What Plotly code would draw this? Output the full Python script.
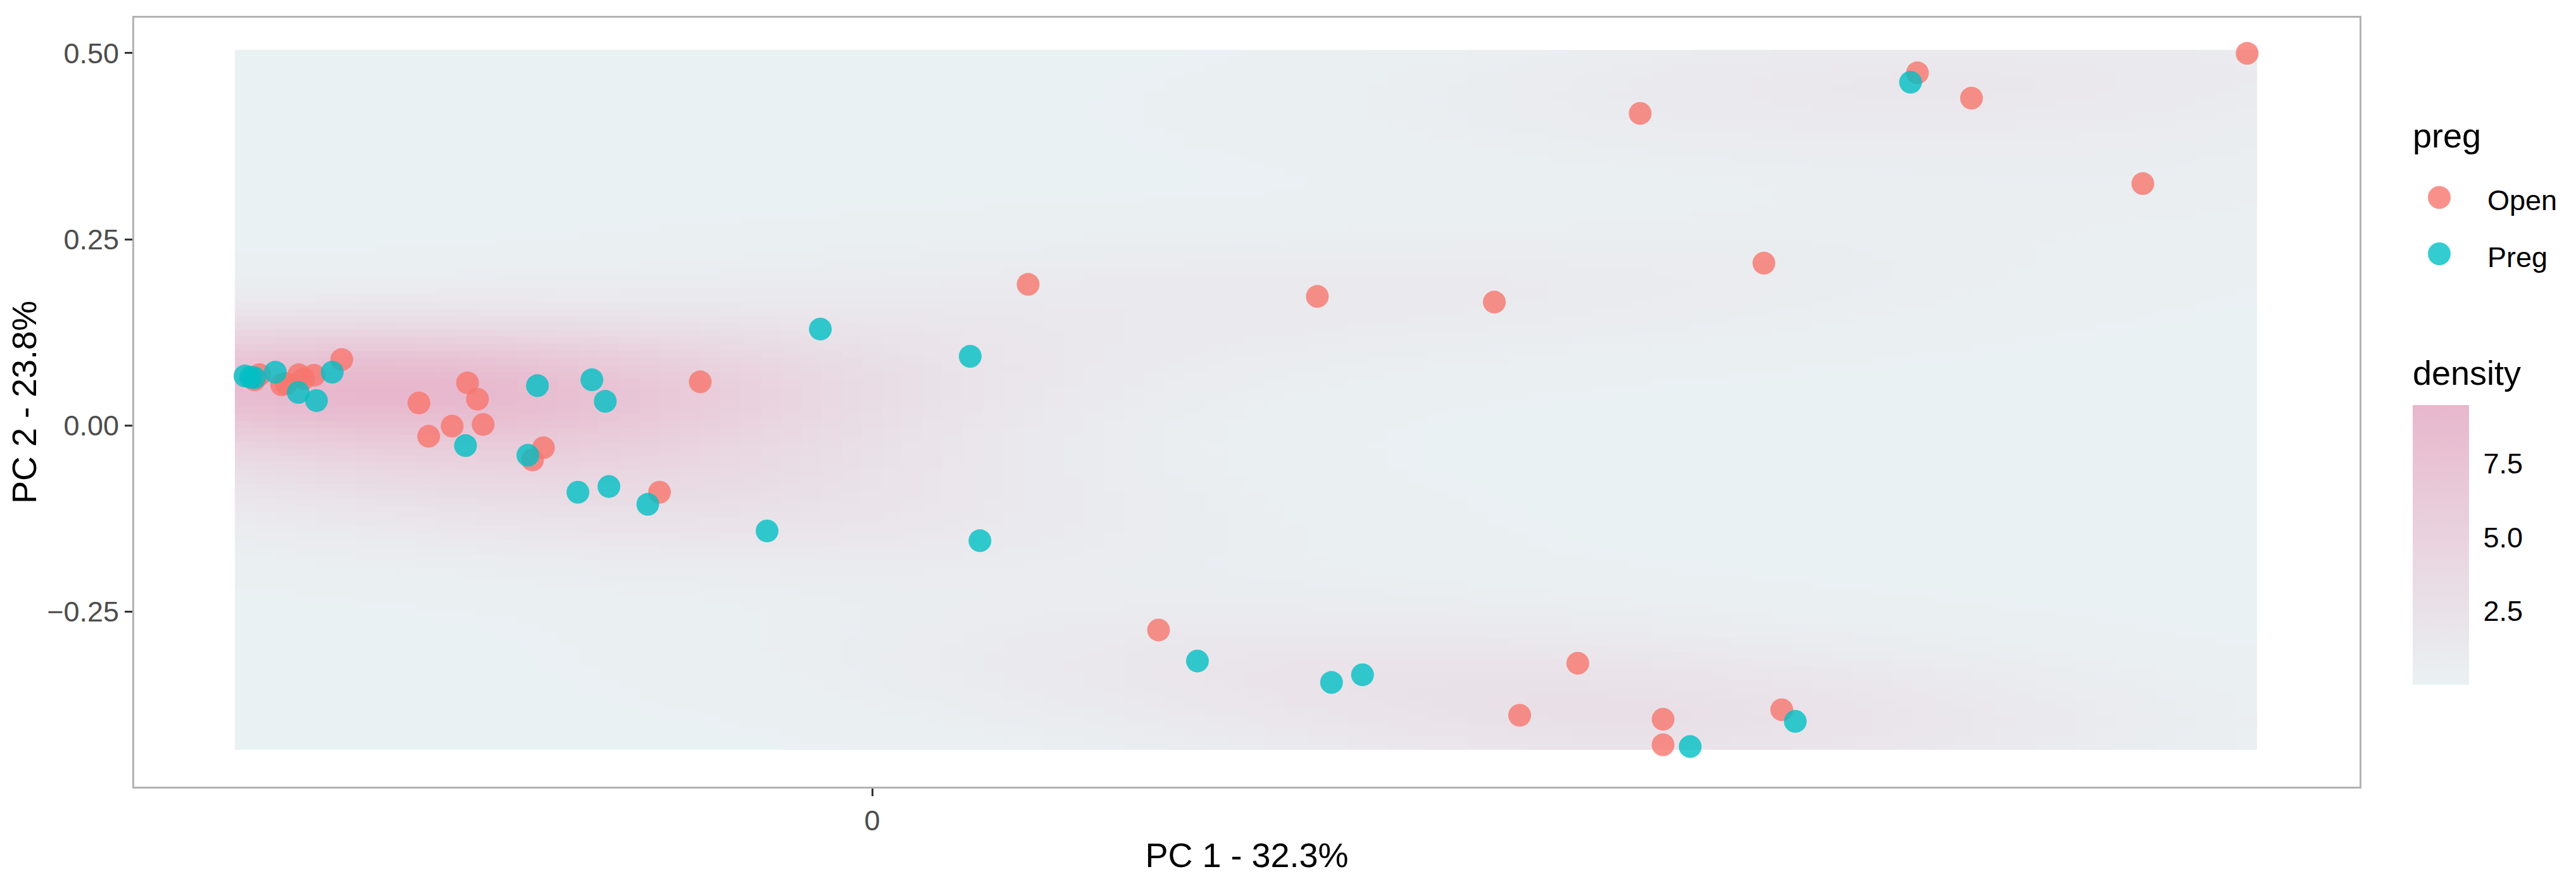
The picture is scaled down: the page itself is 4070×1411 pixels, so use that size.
import numpy as np
import plotly.graph_objects as go

# ---------------- data ----------------
open_x = [-0.3050, -0.3025, -0.2916, -0.2894, -0.2831, -0.2806, -0.2756, -0.2619,
          -0.2238, -0.1998, -0.1949, -0.2074, -0.2190, -0.1921, -0.1623, -0.1677,
          -0.0849, -0.1050, 0.6789, 0.5161, 0.5428, 0.3792, 0.6274, 0.4403,
          0.0770, 0.2198, 0.3072, 0.1414, 0.3197, 0.3484, 0.3905, 0.3905, 0.4491]
open_y = [0.0612, 0.0680, 0.0544, 0.0561, 0.0680, 0.0629, 0.0672, 0.0884,
          0.0300, 0.0570, 0.0351, -0.0011, -0.0147, 0.0011, -0.0301, -0.0465,
          0.0584, -0.0899, 0.4997, 0.4736, 0.4396, 0.4190, 0.3248, 0.2179,
          0.1894, 0.1732, 0.1656, -0.2750, -0.3896, -0.3196, -0.3949, -0.4292, -0.3821]

preg_x = [-0.3097, -0.3069, -0.3050, -0.2947, -0.2834, -0.2744, -0.2666,
          -0.1653, -0.1384, -0.1318, -0.2008, -0.1700, -0.1453, -0.1300, -0.1108,
          -0.0519, -0.0256, 0.0484, 0.0532, 0.1606, 0.2268, 0.2421, 0.4039, 0.4558, 0.5127]
preg_y = [0.0663, 0.0646, 0.0638, 0.0714, 0.0442, 0.0332, 0.0714,
          0.0533, 0.0612, 0.0323, -0.0272, -0.0402, -0.0899, -0.0822, -0.1061,
          -0.1419, 0.1293, 0.0927, -0.1550, -0.3167, -0.3455, -0.3352, -0.4316, -0.3978, 0.4609]

groups = ["Open", "Preg"]
group_colors = ["#F8766D", "#00BFC4"]

y_tick_vals = [-0.25, 0.0, 0.25, 0.50]
y_tick_text = ["\u22120.25", "0.00", "0.25", "0.50"]
x_tick_vals = [0]
x_tick_text = ["0"]
dens_tick_vals = [2.5, 5.0, 7.5]
dens_tick_text = ["2.5", "5.0", "7.5"]
density_max = 9.49  # top of the density colour bar

# ---------------- 2-D kernel density (like MASS::kde2d) ----------------
x_all = np.array(open_x + preg_x)
y_all = np.array(open_y + preg_y)
n = len(x_all)


def bandwidth_nrd(v):
    q1, q3 = np.quantile(v, [0.25, 0.75])
    return 4 * 1.06 * min(np.std(v, ddof=1), (q3 - q1) / 1.34) * len(v) ** (-0.2)


ngrid = 100
gx = np.linspace(x_all.min(), x_all.max(), ngrid)
gy = np.linspace(y_all.min(), y_all.max(), ngrid)
hx = bandwidth_nrd(x_all) / 4
hy = bandwidth_nrd(y_all) / 4
kx = np.exp(-0.5 * ((gx[:, None] - x_all[None, :]) / hx) ** 2) / np.sqrt(2 * np.pi)
ky = np.exp(-0.5 * ((gy[:, None] - y_all[None, :]) / hy) ** 2) / np.sqrt(2 * np.pi)
dens = (ky @ kx.T) / (n * hx * hy)
dens = dens * density_max / dens.max()  # unit conversion of PC1 scale
zmin, zmax = float(dens.min()), float(dens.max())

# ---------------- layout geometry (page pixels) ----------------
PAGE_W, PAGE_H = 4070, 1411
OFF = 8                      # browser body margin
W, H = PAGE_W - OFF, PAGE_H - OFF
L, R, T, B = 212, 3728, 28, 1243   # panel edges on the page
PW, PH = R - L, B - T
CB_LEFT, CB_THICK, CB_TOP, CB_LEN = 3812, 89, 640, 442


def px_x(p):
    return (p - L) / PW


def px_y(p):
    return (B - p) / PH


FONT = "Liberation Sans, Arial, sans-serif"

fig = go.Figure()

fig.add_trace(go.Heatmap(
    x=gx, y=gy, z=dens,
    zmin=zmin, zmax=zmax,
    colorscale=[[0.0, "#EAF1F3"], [0.5, "#E9D4DF"], [1.0, "#E8B7CD"]],
    zsmooth=False,
    hoverinfo="skip",
    colorbar=dict(
        x=px_x(CB_LEFT), xanchor="left", xpad=0,
        y=px_y(CB_TOP + CB_LEN / 2), yanchor="middle", ypad=0,
        len=CB_LEN, lenmode="pixels", thickness=CB_THICK, thicknessmode="pixels",
        outlinewidth=0,
        tickmode="array", tickvals=dens_tick_vals, ticktext=dens_tick_text,
        ticks="outside", ticklen=14, tickwidth=3, tickcolor="white",
        ticklabelposition="outside",
        tickfont=dict(size=45, color="black", family=FONT),
    ),
))

for name, xs, ys, col in zip(groups, [open_x, preg_x], [open_y, preg_y], group_colors):
    fig.add_trace(go.Scatter(
        x=xs, y=ys, mode="markers", name=name, showlegend=False,
        marker=dict(color=col, size=36, opacity=0.8, line=dict(width=0)),
    ))

axis_common = dict(
    showgrid=False, zeroline=False,
    showline=True, mirror=True, linecolor="#B3B3B3", linewidth=3,
    ticks="outside", ticklen=12, tickwidth=3, tickcolor="#333333",
    tickfont=dict(size=45, color="#4D4D4D", family=FONT),
)

fig.update_layout(
    width=W, height=H, autosize=False,
    margin=dict(l=L - OFF, r=W - (R - OFF), t=T - OFF, b=H - (B - OFF), pad=0),
    paper_bgcolor="white", plot_bgcolor="white",
    font=dict(family=FONT, color="black"),
    showlegend=False,
    xaxis=dict(
        range=[-0.3644, 0.7344], tickmode="array",
        tickvals=x_tick_vals, ticktext=x_tick_text,
        title=dict(text="PC 1 - 32.3%", font=dict(size=54, color="black", family=FONT), standoff=12),
        **axis_common,
    ),
    yaxis=dict(
        range=[-0.4855, 0.5476], tickmode="array",
        tickvals=y_tick_vals, ticktext=y_tick_text,
        title=dict(text="PC 2 - 23.8%", font=dict(size=54, color="black", family=FONT), standoff=8),
        **axis_common,
    ),
)

# ---------------- legend for preg (drawn in paper space) ----------------
annotations = [
    dict(text="preg", x=px_x(3810), y=px_y(214), xref="paper", yref="paper",
         xanchor="left", yanchor="middle", showarrow=False,
         font=dict(size=54, color="black", family=FONT)),
    dict(text="density", x=px_x(3810), y=px_y(589), xref="paper", yref="paper",
         xanchor="left", yanchor="middle", showarrow=False,
         font=dict(size=54, color="black", family=FONT)),
]
shapes = []
for i, (name, col) in enumerate(zip(groups, group_colors)):
    cy = 312 + 89 * i
    shapes.append(dict(
        type="circle", xref="paper", yref="paper",
        xsizemode="pixel", ysizemode="pixel",
        xanchor=px_x(3854), yanchor=px_y(cy),
        x0=-18, x1=18, y0=-18, y1=18,
        fillcolor=col, opacity=0.8, line=dict(width=0),
    ))
    annotations.append(dict(
        text=name, x=px_x(3928), y=px_y(cy + 5), xref="paper", yref="paper",
        xanchor="left", yanchor="middle", showarrow=False,
        font=dict(size=45, color="black", family=FONT),
    ))

# white tick marks on both edges of the colour bar (ggplot style)
for v in dens_tick_vals:
    ty = CB_TOP + CB_LEN - (v - zmin) / (zmax - zmin) * CB_LEN
    for x0, x1 in [(CB_LEFT, CB_LEFT + 16), (CB_LEFT + CB_THICK - 16, CB_LEFT + CB_THICK)]:
        shapes.append(dict(
            type="line", xref="paper", yref="paper", layer="above",
            x0=px_x(x0), x1=px_x(x1), y0=px_y(ty), y1=px_y(ty),
            line=dict(color="white", width=3),
        ))

fig.update_layout(annotations=annotations, shapes=shapes)

fig.write_html("out.html")
